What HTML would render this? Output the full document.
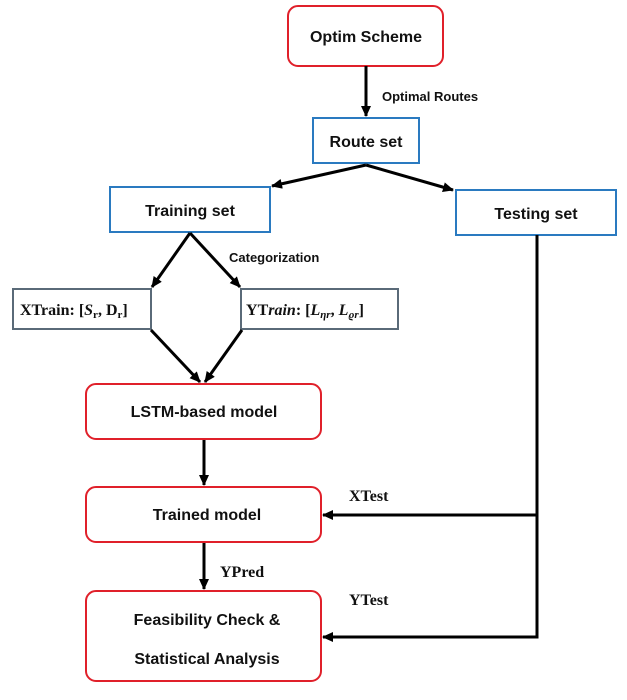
<!DOCTYPE html>
<html><head><style>
body{margin:0;background:#fff;}
svg text{font-family:"Liberation Sans",sans-serif;font-weight:bold;fill:#111;}
.s{font-family:"Liberation Serif",serif !important;}
</style></head><body>
<svg width="627" height="695" viewBox="0 0 627 695" xmlns="http://www.w3.org/2000/svg">
<defs><marker id="a" markerWidth="11" markerHeight="10" refX="10" refY="5" orient="auto" markerUnits="userSpaceOnUse"><path d="M0,0 L11,5 L0,10 z" fill="#000"/></marker></defs>
<g fill="#fff" stroke-width="2">
<rect x="288" y="6" width="155" height="60" rx="10" stroke="#e0202a"/>
<rect x="313" y="118" width="106" height="45" stroke="#2a7ac0"/>
<rect x="110" y="187" width="160" height="45" stroke="#2a7ac0"/>
<rect x="456" y="190" width="160" height="45" stroke="#2a7ac0"/>
<rect x="13" y="289" width="138" height="40" stroke="#5a6a78"/>
<rect x="241" y="289" width="157" height="40" stroke="#5a6a78"/>
<rect x="86" y="384" width="235" height="55" rx="10" stroke="#e0202a"/>
<rect x="86" y="487" width="235" height="55" rx="10" stroke="#e0202a"/>
<rect x="86" y="591" width="235" height="90" rx="10" stroke="#e0202a"/>
</g>
<g stroke="#000" stroke-width="3" fill="none">
<line x1="366" y1="66" x2="366" y2="116" marker-end="url(#a)"/>
<line x1="366" y1="165" x2="272" y2="186" marker-end="url(#a)"/>
<line x1="366" y1="165" x2="453" y2="190" marker-end="url(#a)"/>
<line x1="190" y1="233" x2="152" y2="287" marker-end="url(#a)"/>
<line x1="190" y1="233" x2="240" y2="287" marker-end="url(#a)"/>
<line x1="151" y1="330" x2="200" y2="382" marker-end="url(#a)"/>
<line x1="242" y1="330" x2="205" y2="382" marker-end="url(#a)"/>
<line x1="204" y1="440" x2="204" y2="485" marker-end="url(#a)"/>
<line x1="204" y1="543" x2="204" y2="589" marker-end="url(#a)"/>
<polyline points="537,235 537,637 323,637" marker-end="url(#a)"/>
<line x1="537" y1="515" x2="323" y2="515" marker-end="url(#a)"/>
</g>
<g font-size="16" text-anchor="middle">
<text x="366" y="42">Optim Scheme</text>
<text x="366" y="147">Route set</text>
<text x="190" y="216">Training set</text>
<text x="536" y="219">Testing set</text>
<text x="204" y="417">LSTM-based model</text>
<text x="207" y="520">Trained model</text>
<text x="207" y="625">Feasibility Check &amp;</text>
<text x="207" y="664">Statistical Analysis</text>
</g>
<g font-size="13">
<text x="382" y="101">Optimal Routes</text>
<text x="229" y="262">Categorization</text>
</g>
<g font-size="16" class="s">
<text class="s" x="20" y="315">XTrain: [<tspan font-style="italic">S</tspan><tspan font-size="11" dy="3">r</tspan><tspan dy="-3">, D</tspan><tspan font-size="11" dy="3">r</tspan><tspan dy="-3">]</tspan></text>
<text class="s" x="246" y="315">Y<tspan>T</tspan><tspan font-style="italic">rain</tspan>: [<tspan font-style="italic">L</tspan><tspan font-size="11" font-style="italic" dy="3">ηr</tspan><tspan dy="-3">, </tspan><tspan font-style="italic">L</tspan><tspan font-size="11" font-style="italic" dy="3">ϱr</tspan><tspan dy="-3">]</tspan></text>
<text class="s" x="349" y="501">XTest</text>
<text class="s" x="349" y="605">YTest</text>
<text class="s" x="220" y="577">YPred</text>
</g>
</svg>
</body></html>
